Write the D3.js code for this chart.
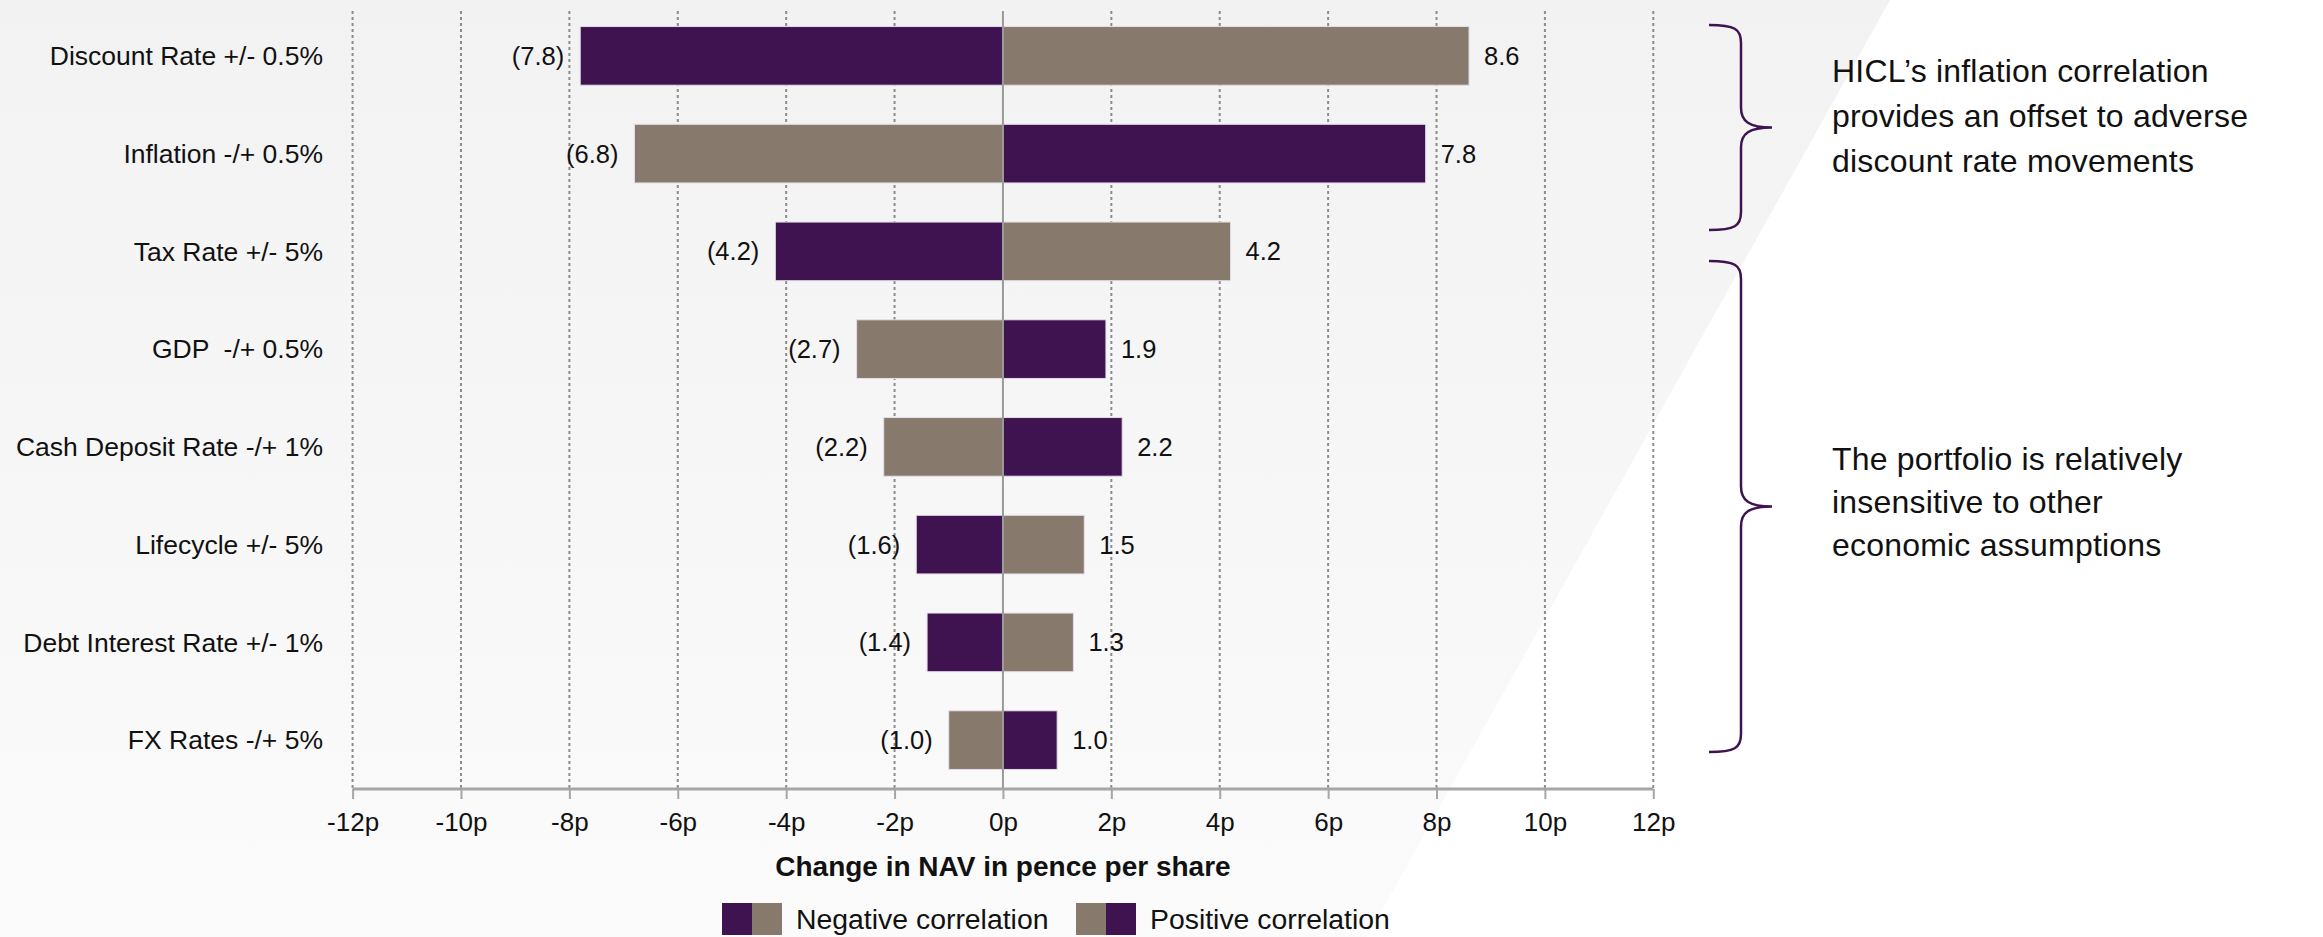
<!DOCTYPE html>
<html>
<head>
<meta charset="utf-8">
<script src="https://cdn.jsdelivr.net/npm/d3@7"></script>
<style>
  html, body { margin: 0; padding: 0; background: #fff; }
  svg { display: block; }
  text { font-family: "Liberation Sans", Arial, Helvetica, sans-serif; fill: #111; white-space: pre; }
</style>
</head>
<body>
<div class="tornado"></div>
<script>
// chart data
var categories = [
  "Discount Rate +/- 0.5%",
  "Inflation -/+ 0.5%",
  "Tax Rate +/- 5%",
  "GDP  -/+ 0.5%",
  "Cash Deposit Rate -/+ 1%",
  "Lifecycle +/- 5%",
  "Debt Interest Rate +/- 1%",
  "FX Rates -/+ 5%"
];
var downside = [-7.8, -6.8, -4.2, -2.7, -2.2, -1.6, -1.4, -1.0];
var upside = [8.6, 7.8, 4.2, 1.9, 2.2, 1.5, 1.3, 1.0];
// "neg" = purple on the left, "pos" = purple on the right
var correlation = ["neg", "pos", "neg", "pos", "pos", "neg", "neg", "pos"];
var xTicks = [-12, -10, -8, -6, -4, -2, 0, 2, 4, 6, 8, 10, 12];
var legendLabels = ["Negative correlation", "Positive correlation"];
var notes = [
  ["HICL\u2019s inflation correlation", "provides an offset to adverse", "discount rate movements"],
  ["The portfolio is relatively", "insensitive to other", "economic assumptions"]
];

var svgWidth = 2323;
var svgHeight = 937;

var purple = "#3e1350";
var taupe = "#877a6d";

var svg = d3.select(".tornado")
  .append("svg")
  .attr("width", svgWidth)
  .attr("height", svgHeight);

// background: light grey panel with a diagonal edge
var defs = svg.append("defs");
var grad = defs.append("linearGradient")
  .attr("id", "bg")
  .attr("x1", 0).attr("y1", 0).attr("x2", 0).attr("y2", 1);
grad.append("stop").attr("offset", "0%").attr("stop-color", "#f2f2f2");
grad.append("stop").attr("offset", "100%").attr("stop-color", "#fbfbfb");

svg.append("path")
  .attr("d", "M0,0 L1890,0 L1367,937 L0,937 Z")
  .attr("fill", "url(#bg)");

var x = d3.scaleLinear()
  .domain([-12, 12])
  .range([352.6, 1653.3]);

var y = d3.scaleBand()
  .domain(categories)
  .range([7, 789])
  .paddingInner(0.4)
  .paddingOuter(0.2);

var rows = categories.map(function(c, i) {
  return { name: c, lo: downside[i], hi: upside[i], corr: correlation[i] };
});

var chartGroup = svg.append("g");

// dotted gridlines
chartGroup.selectAll(".grid")
  .data(xTicks.filter(function(d) { return d !== 0; }))
  .enter()
  .append("line")
  .attr("class", "grid")
  .attr("x1", d => x(d)).attr("x2", d => x(d))
  .attr("y1", 11).attr("y2", 789)
  .attr("stroke", "#8c8c8c")
  .attr("stroke-width", 2)
  .attr("stroke-dasharray", "3,3");

// bars
chartGroup.selectAll(".barLo")
  .data(rows)
  .enter()
  .append("rect")
  .attr("x", d => x(d.lo))
  .attr("y", d => y(d.name))
  .attr("width", d => x(0) - x(d.lo))
  .attr("height", y.bandwidth())
  .attr("fill", d => d.corr === "neg" ? purple : taupe)
  .attr("stroke", "#e4dce8")
  .attr("stroke-width", 1);

chartGroup.selectAll(".barHi")
  .data(rows)
  .enter()
  .append("rect")
  .attr("x", x(0))
  .attr("y", d => y(d.name))
  .attr("width", d => x(d.hi) - x(0))
  .attr("height", y.bandwidth())
  .attr("fill", d => d.corr === "neg" ? taupe : purple)
  .attr("stroke", "#e4dce8")
  .attr("stroke-width", 1);

// zero line
chartGroup.append("line")
  .attr("x1", x(0)).attr("x2", x(0))
  .attr("y1", 11).attr("y2", 789)
  .attr("stroke", "#9a9a9a")
  .attr("stroke-width", 2);

// data labels
chartGroup.selectAll(".lblLo")
  .data(rows)
  .enter()
  .append("text")
  .attr("x", d => x(d.lo) - 16)
  .attr("y", d => y(d.name) + y.bandwidth() / 2)
  .attr("dy", "0.35em")
  .attr("text-anchor", "end")
  .attr("font-size", 25.5)
  .text(d => "(" + Math.abs(d.lo).toFixed(1) + ")");

chartGroup.selectAll(".lblHi")
  .data(rows)
  .enter()
  .append("text")
  .attr("x", d => x(d.hi) + 15)
  .attr("y", d => y(d.name) + y.bandwidth() / 2)
  .attr("dy", "0.35em")
  .attr("font-size", 25.5)
  .text(d => d.hi.toFixed(1));

// category labels
chartGroup.selectAll(".cat")
  .data(categories)
  .enter()
  .append("text")
  .attr("x", 323)
  .attr("y", d => y(d) + y.bandwidth() / 2)
  .attr("dy", "0.35em")
  .attr("text-anchor", "end")
  .attr("font-size", 26.5)
  .text(d => d);

// x axis
var bottomAxis = d3.axisBottom(x)
  .tickValues(xTicks)
  .tickSize(10)
  .tickPadding(14)
  .tickFormat(d => d + "p");

var xAxis = chartGroup.append("g")
  .attr("transform", "translate(0, 789)")
  .call(bottomAxis);

xAxis.select(".domain")
  .attr("stroke", "#a6a6a6")
  .attr("stroke-width", 3)
  .attr("d", "M" + x(-12) + ",0H" + x(12));
xAxis.selectAll(".tick line")
  .attr("stroke", "#a6a6a6")
  .attr("stroke-width", 2);
xAxis.selectAll(".tick text")
  .attr("font-size", 26)
  .attr("font-family", "'Liberation Sans', Arial, sans-serif")
  .attr("fill", "#111");

chartGroup.append("text")
  .attr("x", x(0))
  .attr("y", 876)
  .attr("text-anchor", "middle")
  .attr("font-size", 28)
  .attr("font-weight", "bold")
  .text("Change in NAV in pence per share");

// legend
var legend = svg.append("g").attr("transform", "translate(0, 903)");
var legendX = [722, 1076];
legendLabels.forEach(function(label, i) {
  var g = legend.append("g").attr("transform", "translate(" + legendX[i] + ",0)");
  g.append("rect").attr("x", 0).attr("width", 30).attr("height", 32)
    .attr("fill", i === 0 ? purple : taupe);
  g.append("rect").attr("x", 30).attr("width", 30).attr("height", 32)
    .attr("fill", i === 0 ? taupe : purple);
  g.append("text").attr("x", 74).attr("y", 16).attr("dy", "0.35em")
    .attr("font-size", 28.4).text(label);
});

// braces
function brace(top, bottom, x0, x1, x2) {
  var mid = (top + bottom) / 2;
  return "M" + x0 + "," + top +
    " C" + (x1 - 6) + "," + top + " " + x1 + "," + (top + 4) + " " + x1 + "," + (top + 18) +
    " L" + x1 + "," + (mid - 20) +
    " C" + x1 + "," + (mid - 6) + " " + (x1 + 8) + "," + mid + " " + x2 + "," + mid +
    " C" + (x1 + 8) + "," + mid + " " + x1 + "," + (mid + 6) + " " + x1 + "," + (mid + 20) +
    " L" + x1 + "," + (bottom - 18) +
    " C" + x1 + "," + (bottom - 4) + " " + (x1 - 6) + "," + bottom + " " + x0 + "," + bottom;
}
var braceSpans = [[25, 230], [261, 752]];
svg.selectAll(".brace")
  .data(braceSpans)
  .enter()
  .append("path")
  .attr("d", d => brace(d[0], d[1], 1709, 1741, 1772))
  .attr("fill", "none")
  .attr("stroke", purple)
  .attr("stroke-width", 2.5);

// side notes
var noteTop = [82, 470];
var noteGap = [45, 43];
notes.forEach(function(lines, i) {
  var t = svg.append("text")
    .attr("x", 1832)
    .attr("y", noteTop[i])
    .attr("font-size", 32)
    .style("letter-spacing", "0.2px")
    .attr("fill", "#1a1a1a");
  lines.forEach(function(line, j) {
    t.append("tspan").attr("x", 1832).attr("dy", j === 0 ? 0 : noteGap[i]).text(line);
  });
});
</script>
</body>
</html>
